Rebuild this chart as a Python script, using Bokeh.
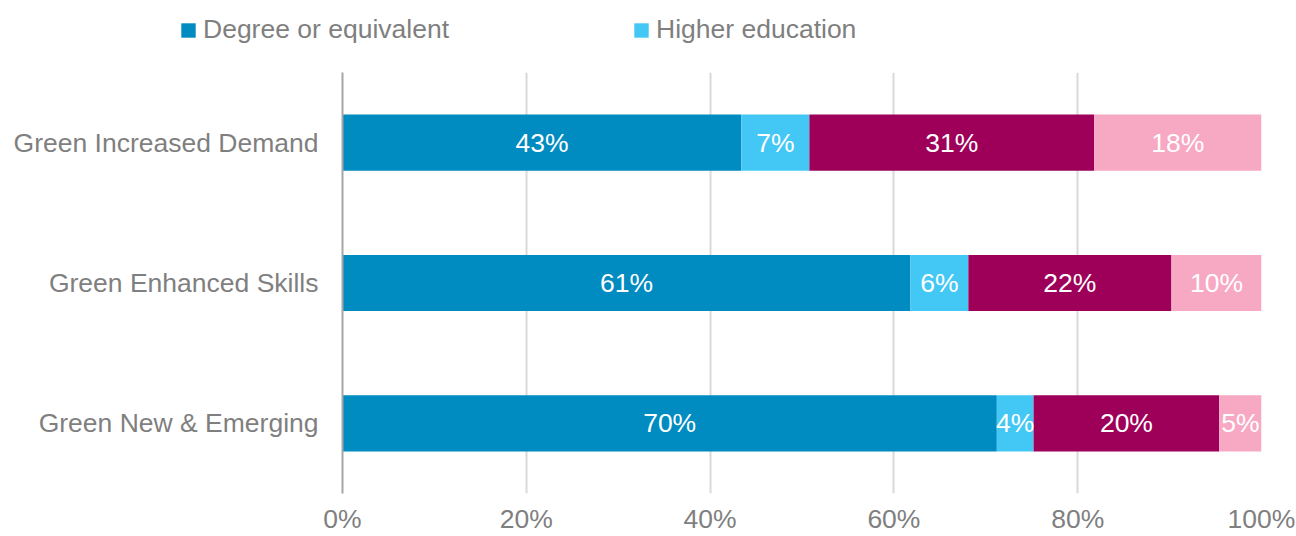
from bokeh.plotting import figure
from bokeh.layouts import column, row
from bokeh.models import ColumnDataSource, FactorRange, Range1d, Legend, LegendItem, PrintfTickFormatter, FixedTicker
from bokeh.core.properties import value
from bokeh.embed import file_html
from bokeh.resources import INLINE

categories = ["Green Increased Demand", "Green Enhanced Skills", "Green New & Emerging"]
series = ["Degree or equivalent", "Higher education", "Level 3 or equivalent", "Level 2 or below"]
# bar shares (% of row, 100% stacked)
degree = [43.4, 61.8, 71.2]
higher = [7.4, 6.3, 4.0]
level3 = [31.0, 22.1, 20.2]
level2 = [18.2, 9.8, 4.6]
# the labels printed on the bars
degree_lbl = ["43%", "61%", "70%"]
higher_lbl = ["7%", "6%", "4%"]
level3_lbl = ["31%", "22%", "20%"]
level2_lbl = ["18%", "10%", "5%"]
colors = ["#008BC1", "#43C8F5", "#9E0059", "#F7A8C3"]
x_ticks = [0, 20, 40, 60, 80, 100]

raw = [degree, higher, level3, level2]
lbls = [degree_lbl, higher_lbl, level3_lbl, level2_lbl]
keys = ["s0", "s1", "s2", "s3"]
data = {"cat": categories}
for k, r in zip(keys, raw):
    data[k] = r
source = ColumnDataSource(data)

FONT = "Liberation Sans"
FS = "26.5px"

# ---- legend strip ----
lg = figure(width=1296, height=72, output_backend="svg", toolbar_location=None,
            x_range=Range1d(0, 1), y_range=Range1d(0, 1),
            min_border=0, min_border_left=0, min_border_right=0, min_border_top=0, min_border_bottom=0)
lg.axis.visible = False
lg.grid.visible = False
lg.outline_line_color = None
# legend swatches (kept outside the visible range; only their legend entries show)
dummy = [lg.quad(left=[5], right=[6], bottom=[5], top=[6], fill_color=c, line_color=None)
         for c in colors[:2]]
legend = Legend(items=[LegendItem(label=series[0], renderers=[dummy[0]]),
                       LegendItem(label=series[1], renderers=[dummy[1]])],
                orientation="horizontal", location=(179, 27),
                glyph_width=18, glyph_height=18, label_standoff=6, label_width=419, spacing=10,
                label_text_font=FONT, label_text_font_size=FS, label_text_color="#7F7F7F",
                border_line_color=None, background_fill_alpha=0, padding=0, margin=0)
lg.add_layout(legend, "center")

# ---- main chart ----
p = figure(width=1296, height=464, output_backend="svg", toolbar_location=None,
           y_range=FactorRange(*categories[::-1]), x_range=Range1d(0, 100),
           min_border_left=342, min_border_right=35, min_border_top=0, min_border_bottom=42)

renderers = p.hbar_stack(keys, y="cat", height=0.4, color=colors, source=source, line_width=0)

lx, ly, lt = [], [], []
for i, c in enumerate(categories):
    cum = 0
    for r, lab in zip(raw, lbls):
        w = r[i]
        lx.append(cum + w / 2)
        ly.append(c)
        lt.append(lab[i])
        cum += w
p.text(x=lx, y=ly, text=lt, text_color="white", text_font=value(FONT), text_font_size=FS,
       text_align="center", text_baseline="middle")

p.outline_line_color = None
p.ygrid.grid_line_color = None
p.xgrid.grid_line_color = "#D9D9D9"
p.xgrid.grid_line_width = 2
p.xaxis.ticker = FixedTicker(ticks=x_ticks)
p.xaxis.formatter = PrintfTickFormatter(format="%d%%")
p.xaxis.axis_line_color = None
p.xaxis.major_tick_out = 0
p.xaxis.major_tick_in = 0
p.xaxis.minor_tick_out = 0
p.xaxis.minor_tick_in = 0
p.xaxis.major_label_standoff = 10
p.yaxis.axis_line_color = "#A6A6A6"
p.yaxis.axis_line_width = 2
p.yaxis.major_tick_out = 0
p.yaxis.major_tick_in = 0
p.yaxis.minor_tick_out = 0
p.yaxis.minor_tick_in = 0
p.yaxis.major_label_standoff = 24
for ax in (p.xaxis, p.yaxis):
    ax.major_label_text_font = FONT
    ax.major_label_text_font_size = FS
    ax.major_label_text_color = "#7F7F7F"

layout = column(row(lg), p, spacing=0)
open("out.html", "w").write(file_html(layout, INLINE))
